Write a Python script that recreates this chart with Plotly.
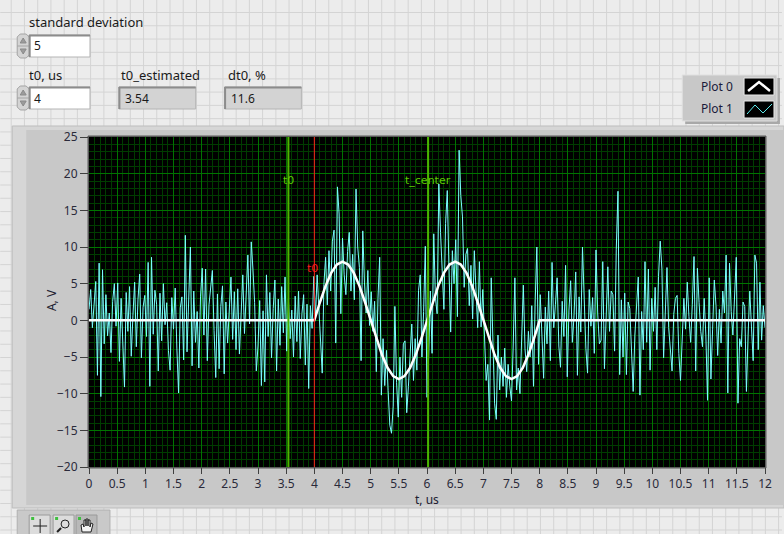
import numpy as np
import plotly.graph_objects as go

# ---------------- data ----------------
# Plot 1: noisy measured signal, sampled every 0.03 us from 0 to 12 us
noise_step = 0.03
plot1_values = [
    1.5, 4.2, -1.0, 2.8, 5.3, -7.5, 7.8, -10.4, 6.9, -3.2, 3.5, -2.1, 1.0, -4.4, 2.6, 5.0, -0.8, 5.1, -5.6, 3.0,
    -2.4, -9.1, 3.8, -1.5, 4.6, -4.9, 0.7, 5.2, -3.6, 2.9, 6.3, -5.1, 1.8, 3.4, -2.2, 7.9, -9.0, 8.6, -1.9, 4.1,
    2.2, -6.9, 3.7, -2.8, 5.0, -0.6, 2.4, -4.1, -6.8, 3.1, -1.2, 4.4, -3.9, -9.9, 1.7, 3.2, -5.4, 11.6, -4.3, 2.8,
    10.0, -6.2, 4.0, -3.0, 1.2, -6.5, 3.3, 7.1, -2.0, 7.0, -5.5, 2.1, 4.5, 6.8, -1.4, -7.8, 3.6, -6.6, 1.9, 4.7,
    -7.3, 2.5, -3.1, 0.8, 5.9, -2.6, 3.9, -4.0, 4.3, -4.6, 1.5, 6.2, -1.8, 3.0, 8.9, -0.5, 10.7, 7.0, 2.4, -6.9,
    -3.5, 2.7, -8.9, 1.3, -8.4, 6.2, -2.2, 3.8, -5.1, 1.6, 5.5, -6.9, 2.9, -3.4, 4.6, -1.7, 5.9, -4.2, 2.9, -2.5,
    1.4, -5.0, 3.3, -2.9, 4.0, -5.2, 0.9, 3.5, -6.1, 2.2, -9.3, 2.0, -1.1, 6.0, 0.5, 6.2, 1.8, -2.4, -7.2, 4.9,
    8.6, 2.1, 9.5, 4.0, 10.8, 12.3, -3.1, 18.2, 14.5, 0.9, 11.2, 6.2, 3.5, 9.4, 12.0, 4.0, 9.0, 2.8, 17.9, 10.0,
    7.2, -5.5, 12.2, 5.1, 1.0, 6.8, -0.7, 3.9, -1.5, 2.6, -7.0, 3.0, 8.6, -10.2, -2.5, -8.9, -4.1, -9.6, -14.3, -15.4,
    -11.7, 1.9, -8.5, -13.2, -5.0, -10.5, -3.2, -2.8, -12.6, -9.0, -4.9, -0.5, -8.2, -2.5, -6.8, 4.1, 6.2, -5.0, 1.2, 10.1,
    -10.5, -4.8, 4.0, -4.5, 11.8, 3.0, 0.9, 18.6, 12.0, 6.5, 1.5, 13.2, 17.7, 7.0, -1.6, 9.5, 5.0, 11.0, 0.5, 23.2,
    17.0, 14.1, 4.5, 9.0, 9.8, 2.0, 7.5, 0.2, 9.5, 4.0, -1.0, 8.0, -0.9, 4.2, -3.0, -8.2, -6.0, -13.6, 5.8, -4.5,
    -11.3, -13.5, -2.0, -9.5, -5.0, -9.0, -3.8, -10.5, -6.0, -9.0, -11.0, -3.5, 5.8, -9.5, -6.5, -10.0, -2.5, 4.8, -3.9, -7.0,
    -1.5, -5.0, 2.0, -9.0, 2.5, 10.0, -6.0, 3.5, -2.0, -7.9, 1.8, -3.2, 4.0, -5.5, 7.9, -1.0, 2.2, 5.8, -3.5, -6.4,
    2.6, -2.2, 7.5, -7.7, 1.4, 5.4, -3.0, 0.6, 6.6, -7.5, 3.2, -1.6, 10.0, 2.4, -3.8, -7.2, 4.2, -0.8, 3.1, -4.5,
    9.6, 1.0, -3.2, -2.7, 8.0, -6.6, 2.0, 7.3, -1.5, 4.0, 3.5, -4.2, 9.7, 17.6, -7.4, 2.8, -5.0, 3.7, -7.4, 2.5,
    1.6, -3.8, -9.7, -2.0, 3.0, 5.9, -10.2, 1.2, -4.0, 8.0, -3.0, 7.0, -6.8, 3.0, -1.5, 4.5, -4.0, 6.0, 10.8, 7.0,
    -5.1, 1.8, 7.2, -1.0, -3.5, -6.9, 0.8, 3.0, 3.4, -4.5, -8.2, -2.0, 3.0, -1.2, 5.2, 0.5, -3.0, 2.2, 8.7, -6.9,
    7.1, 2.4, -1.5, -3.6, 3.0, -2.0, -10.9, 5.8, -8.0, -1.2, 5.5, 2.0, -4.8, 1.5, -3.1, 4.0, 1.0, 8.9, -9.9, 7.8,
    1.2, -2.0, 3.5, 8.6, -11.3, -2.5, -3.6, 2.5, 1.9, -9.7, -2.0, 4.0, -0.9, -5.5, 8.9, 7.8, -4.0, 5.2, -2.7, 2.0,
    -1.0,
]
plot1_t = np.round(np.arange(len(plot1_values)) * noise_step, 3)

# Plot 0: clean two-period pulse starting at t0 = 4 us (0.1 us step inside the pulse)
plot0_t = [0.0] + list(np.round(np.arange(41) * 0.1 + 4.0, 2)) + [12.0]
plot0_values = [
    0.0,
    0.0, 2.47, 4.70, 6.47, 7.61, 8.00, 7.61, 6.47, 4.70, 2.47,
    0.0, -2.47, -4.70, -6.47, -7.61, -8.00, -7.61, -6.47, -4.70, -2.47,
    0.0, 2.47, 4.70, 6.47, 7.61, 8.00, 7.61, 6.47, 4.70, 2.47,
    0.0, -2.47, -4.70, -6.47, -7.61, -8.00, -7.61, -6.47, -4.70, -2.47,
    0.0,
    0.0,
]

# cursors
t0_true = 4.0
t0_estimated = 3.54
t_center = 6.02
dt0_percent = 11.6
std_dev = 5

x_ticks = [i * 0.5 for i in range(25)]
x_ticktext = ["0", "0.5", "1", "1.5", "2", "2.5", "3", "3.5", "4", "4.5", "5", "5.5",
              "6", "6.5", "7", "7.5", "8", "8.5", "9", "9.5", "10", "10.5", "11", "11.5", "12"]
y_ticks = [-20, -15, -10, -5, 0, 5, 10, 15, 20, 25]

# ---------------- geometry helpers (page pixels -> paper coords) ----------------
W, H = 784, 534
L, R, T, B = 89, 767, 137, 467


def px(x):
    return (x - L) / (R - L)


def py(y):
    return (B - y) / (B - T)


def rect(x0, y0, x1, y1, fill, line=None, lw=0, layer="below"):
    return dict(type="rect", xref="paper", yref="paper",
                x0=px(x0), x1=px(x1), y0=py(y1), y1=py(y0),
                fillcolor=fill, line=dict(color=line or fill, width=lw), layer=layer)


def seg(x0, y0, x1, y1, color, lw=1, layer="below"):
    return dict(type="line", xref="paper", yref="paper",
                x0=px(x0), x1=px(x1), y0=py(y0), y1=py(y1),
                line=dict(color=color, width=lw), layer=layer)


def path(points, color, lw=1, fill=None, closed=False, layer="above"):
    d = "M " + " L ".join(f"{px(a):.5f},{py(b):.5f}" for a, b in points)
    if closed:
        d += " Z"
    s = dict(type="path", xref="paper", yref="paper", path=d,
             line=dict(color=color, width=lw), layer=layer)
    if fill:
        s["fillcolor"] = fill
    return s


def text(x, y, s, size=13, color="#1a1a1a", anchor="left", family="Noto Sans", **kw):
    return dict(x=px(x), y=py(y), xref="paper", yref="paper", text=s, showarrow=False,
                xanchor=anchor, yanchor="middle",
                font=dict(family=family, size=size, color=color), **kw)


shapes = []
annotations = []

# front panel grid
gx = 11.0
while gx < W:
    shapes.append(seg(gx, 0, gx, H, "#d4d4d4", 1))
    gx += 13.27
gy = 12.5
while gy < H:
    shapes.append(seg(0, gy, W, gy, "#d4d4d4", 1))
    gy += 13.27

# graph frame
shapes.append(rect(12, 126, 786, 508, "#d6d6d6", "#bdbdbd", 1))
shapes.append(rect(26, 130, 786, 505, "#c8c8c8"))
shapes.append(rect(L - 1, T - 1, R + 1, B + 1, "#000000", "#5a5a5a", 1))

# graph toolbar
shapes.append(rect(17, 510, 110, 536, "#c9c9c9", "#b0b0b0", 1))
for bx0, bx1, bfill in [(29, 50, "#dcdcdc"), (53, 74, "#dcdcdc"), (76, 97, "#b9b9b9")]:
    shapes.append(rect(bx0, 515, bx1, 536, bfill, "#9a9a9a", 1))
    shapes.append(rect(bx0 + 2, 517, bx0 + 5, 520, "#3fbf3f", layer="above"))
# crosshair
shapes.append(seg(33, 526, 47, 526, "#202020", 1, "above"))
shapes.append(seg(40, 519, 40, 533, "#202020", 1, "above"))
# magnifier
shapes.append(dict(type="circle", xref="paper", yref="paper", x0=px(61), x1=px(69), y0=py(528), y1=py(520),
                   line=dict(color="#202020", width=1), layer="above"))
shapes.append(seg(61, 528, 57, 532, "#202020", 2, "above"))
# hand
shapes.append(path([(82, 532), (81, 525), (83, 524), (84, 527), (84, 520), (86, 520), (86, 526), (86, 519),
                    (88, 519), (88, 526), (88, 520), (90, 520), (90, 527), (91, 523), (93, 524), (91, 532)],
                   "#202020", 1, fill="#f4f4f4", closed=True))

# numeric controls / indicators
def spin(y0):
    shapes.append(path([(17, y0 + 3), (20, y0), (26, y0), (29, y0 + 3), (29, y0 + 21), (26, y0 + 24),
                        (20, y0 + 24), (17, y0 + 21)], "#a4a4a4", 1, fill="#d4d4d4", closed=True))
    shapes.append(seg(17, y0 + 12, 29, y0 + 12, "#a4a4a4", 1, "above"))
    shapes.append(path([(20, y0 + 9), (23, y0 + 4), (26, y0 + 9)], "#8a8a8a", 1, fill="#9c9c9c", closed=True))
    shapes.append(path([(20, y0 + 15), (23, y0 + 20), (26, y0 + 15)], "#8a8a8a", 1, fill="#9c9c9c", closed=True))


def field(x0, y0, x1, y1, fill):
    shapes.append(rect(x0, y0, x1, y1, fill, "#b4b4b4", 1))
    shapes.append(seg(x0, y0 + 0.5, x1, y0 + 0.5, "#8c8c8c", 2, "above"))
    shapes.append(seg(x0 + 0.5, y0, x0 + 0.5, y1, "#8c8c8c", 2, "above"))


spin(34)
field(29, 35, 90, 57, "#ffffff")
spin(86)
field(29, 87, 90, 109, "#ffffff")
field(119, 87, 196, 109, "#d3d3d3")
field(225, 87, 302, 109, "#d3d3d3")

annotations += [
    text(27, 22, "standard deviation"),
    text(32, 46, str(std_dev), size=12),
    text(27, 75, "t0, us"),
    text(32, 98, f"{t0_true:g}", size=12),
    text(119, 75, "t0_estimated"),
    text(123, 98, f"{t0_estimated:.2f}", size=12),
    text(226, 75, "dt0, %"),
    text(229, 98, f"{dt0_percent:.1f}", size=12),
]

# plot legend
shapes.append(rect(687, 78, 782, 124, "#a8a8a8"))
shapes.append(rect(684, 75, 779, 121, "#c8c8c8", "#e0e0e0", 1))
shapes.append(rect(746, 78, 776, 95, "#000000", "#e8e8e8", 1, layer="above"))
shapes.append(rect(746, 101, 776, 118, "#000000", "#e8e8e8", 1, layer="above"))
shapes.append(path([(750, 91), (761, 82), (772, 91)], "#ffffff", 2.5))
shapes.append(path([(749, 114), (757, 105), (765, 113), (774, 104)], "#5ff0f0", 1))
annotations += [
    text(701, 86, "Plot 0", size=12, color="#1a1a3a"),
    text(701, 109, "Plot 1", size=12, color="#1a1a3a"),
]

# cursors
shapes.append(dict(type="line", xref="x", yref="y", x0=t0_estimated, x1=t0_estimated, y0=-20, y1=25,
                   line=dict(color="#4cb400", width=2), layer="above"))
shapes.append(dict(type="line", xref="x", yref="y", x0=t_center, x1=t_center, y0=-20, y1=25,
                   line=dict(color="#4cb400", width=2), layer="above"))
shapes.append(dict(type="line", xref="x", yref="y", x0=t0_true, x1=t0_true, y0=-20, y1=25,
                   line=dict(color="#ff1a1a", width=1), layer="above"))
cur_font = "DejaVu Sans"
annotations += [
    dict(x=t0_estimated, y=19.1, xref="x", yref="y", text="t0", showarrow=False,
         font=dict(family=cur_font, size=11, color="#5ccc00")),
    dict(x=t_center, y=19.1, xref="x", yref="y", text="t_center", showarrow=False,
         font=dict(family=cur_font, size=11, color="#5ccc00")),
    dict(x=t0_true - 0.03, y=7.1, xref="x", yref="y", text="t0", showarrow=False,
         font=dict(family=cur_font, size=11, color="#ff1a1a")),
]

# axis titles
annotations += [
    text(428, 499, "t, us", size=12, color="#202030", anchor="center"),
    text(51, 300, "A, V", size=12, color="#202030", anchor="center", textangle=-90),
]

# ---------------- figure ----------------
fig = go.Figure()
fig.add_trace(go.Scatter(x=plot1_t, y=plot1_values, mode="lines", name="Plot 1",
                         line=dict(color="#7affff", width=1), showlegend=False))
fig.add_trace(go.Scatter(x=plot0_t, y=plot0_values, mode="lines", name="Plot 0",
                         line=dict(color="#ffffff", width=2.5), showlegend=False))

axis_font = dict(family="Noto Sans", size=12, color="#2a2a3a")
fig.update_layout(
    width=W, height=H,
    margin=dict(l=L, r=W - R, t=T, b=H - B, pad=0),
    paper_bgcolor="#ececec",
    plot_bgcolor="#000000",
    showlegend=False,
    shapes=shapes,
    annotations=annotations,
    xaxis=dict(range=[0, 12], tickvals=x_ticks, ticktext=x_ticktext, ticks="outside", ticklen=6,
               tickcolor="#404040", tickfont=axis_font, showgrid=True, gridcolor="#007400", gridwidth=1,
               minor=dict(dtick=0.1, showgrid=True, gridcolor="#003c00", gridwidth=1),
               zeroline=False, showline=True, linecolor="#5a5a5a", mirror=True, fixedrange=True),
    yaxis=dict(range=[-20, 25], tickvals=y_ticks, ticks="outside", ticklen=8,
               tickcolor="#404040", tickfont=axis_font, showgrid=True, gridcolor="#007400", gridwidth=1,
               minor=dict(dtick=1, showgrid=True, gridcolor="#003c00", gridwidth=1),
               zeroline=False, showline=True, linecolor="#5a5a5a", mirror=True, fixedrange=True),
)

fig.write_html("out.html")
